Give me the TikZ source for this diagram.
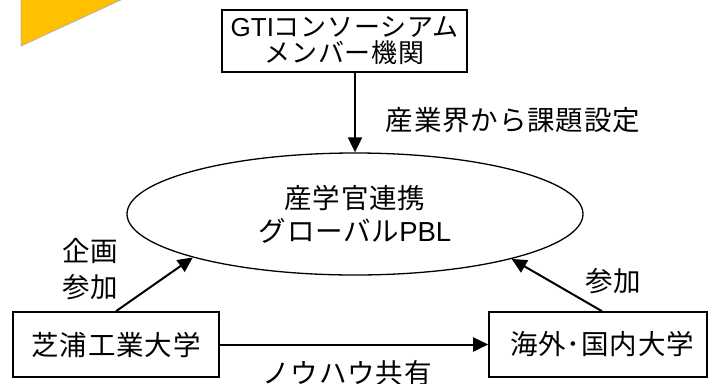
\documentclass[tikz,border=0pt]{standalone}
\usepackage{fontspec}
\setmainfont{Noto Sans CJK JP}[LetterSpace=3]
\newfontfamily\latinfont{Liberation Sans}
\usetikzlibrary{arrows.meta,shapes.geometric}
\definecolor{orangey}{HTML}{FFC000}
\begin{document}
\begin{tikzpicture}[x=1pt,y=-1pt,
  box/.style={draw=black,line width=1.6pt,rectangle,inner sep=0pt,align=center},
  arr/.style={line width=2pt,-{Triangle[length=15pt,width=14pt]}},
  txt/.style={inner sep=0pt,align=center,font=\fontsize{27.5}{36}\selectfont}]
\useasboundingbox (0,0) rectangle (708,383);
\fill[orangey,draw=black!30,line width=0.8pt] (21,-2) -- (21,46) -- (125,-2) -- cycle;
\node[box,minimum width=245pt,minimum height=62pt,font=\fontsize{26}{26}\selectfont] (top) at (344.5,41) {{\latinfont GTI}コンソーシアム\\[0pt]メンバー機関};
\node[draw=black,line width=1.3pt,ellipse,minimum width=456pt,minimum height=122pt,inner sep=0pt,align=center,font=\fontsize{27.5}{33}\selectfont] (ell) at (355,214) {産学官連携\\グローバル{\latinfont PBL}};
\node[box,minimum width=206pt,minimum height=65pt,font=\fontsize{27.5}{30}\selectfont] (lb) at (116,344.5) {芝浦工業大学};
\node[box,minimum width=218pt,minimum height=65pt,font=\fontsize{27.5}{30}\selectfont] (rb) at (598,344.5) {\hspace*{8pt}海外･国内大学};
\draw[arr] (ell.north |- top.south) -- (ell.north);
\draw[arr] (lb.north) -- (ell.195.5);
\draw[arr] ([xshift=4pt]rb.north) -- (ell.344.7);
\draw[arr] (lb.east) -- (rb.west);
\node[txt] (l1) at (513,120) {産業界から課題設定};
\node[txt] (l2) at (90,269) {企画\\参加};
\node[txt] (l3) at (613,281) {参加};
\node[txt] (l4) at (347,373) {ノウハウ共有};
\end{tikzpicture}
\end{document}
